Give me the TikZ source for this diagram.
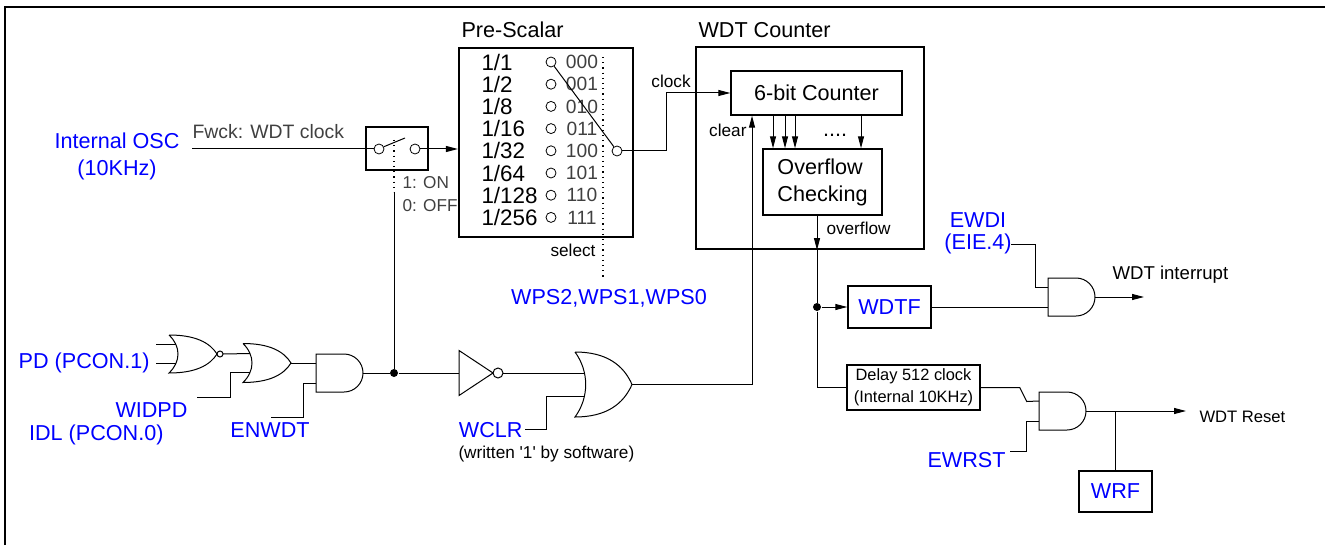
\documentclass[tikz,border=0pt]{standalone}
\usepackage{fontspec}
\setmainfont{Liberation Sans}
\usetikzlibrary{arrows.meta}
\definecolor{dim}{gray}{0.25}
\tikzset{lab/.style={inner sep=0pt,font=\fontsize{10.8}{13.5}\selectfont}}
\tikzset{sm/.style={inner sep=0pt,font=\fontsize{8.6}{11}\selectfont}}
\tikzset{reg/.style={lab,text=blue}}
\tikzset{sig/.style={-{Triangle[length=6pt,width=3pt]}}}
\tikzset{blk/.style={draw,inner sep=0pt,line width=0.7pt}}
\tikzset{frm/.style={draw,inner sep=0pt,line width=1.1pt}}
\tikzset{pin/.style={circle,draw,inner sep=0pt,minimum size=5pt,line width=0.4pt}}
\tikzset{dot/.style={circle,fill,inner sep=0pt,minimum size=4pt}}
\tikzset{
andg/.pic={
  \draw[fill=white] (0,-19) -- (28,-19) arc[start angle=-90,end angle=90,radius=19] -- (0,19) -- cycle;
  \coordinate (-in1) at (0,-10);
  \coordinate (-in2) at (0,10);
  \coordinate (-out) at (47,0);
},
pics/org/.style n args={3}{code={
  \draw[fill=white] (0,-#1) .. controls ({0.55*#2},-#1) and ({0.85*#2},{-0.6*#1}) .. (#2,0)
    .. controls ({0.85*#2},{0.6*#1}) and ({0.55*#2},#1) .. (0,#1)
    .. controls ({0.25*#2},{0.4*#1}) and ({0.25*#2},{-0.4*#1}) .. (0,-#1);
  \coordinate (-in1) at ({0.15*#2},-#3);
  \coordinate (-in2) at ({0.15*#2},#3);
  \coordinate (-out) at (#2,0);
}},
pics/norg/.style n args={3}{code={
  \draw[fill=white] (0,-#1) .. controls ({0.55*#2},-#1) and ({0.85*#2},{-0.6*#1}) .. (#2,0)
    .. controls ({0.85*#2},{0.6*#1}) and ({0.55*#2},#1) .. (0,#1)
    .. controls ({0.25*#2},{0.4*#1}) and ({0.25*#2},{-0.4*#1}) .. (0,-#1);
  \draw[fill=white] ({#2+3},0) circle[radius=3];
  \coordinate (-in1) at ({0.15*#2},-#3);
  \coordinate (-in2) at ({0.15*#2},#3);
  \coordinate (-out) at ({#2+6},0);
}},
notg/.pic={
  \draw[fill=white] (0,-22.5) -- (34,0) -- (0,22.5) -- cycle;
  \draw[fill=white] (39,0) circle[radius=5];
  \coordinate (-in) at (0,0);
  \coordinate (-out) at (44,0);
}
}
\begin{document}
\begin{tikzpicture}[x=0.5pt,y=-0.5pt,line width=0.5pt]
    \useasboundingbox (0,0) rectangle (1325,545);
    \draw[line width=1pt] (5,545) -- (5,7) -- (1325,7);
    % boxes
    \node[blk, minimum width=31pt, minimum height=21.5pt] (sw) at (397,148.5) {};
    \node[frm, minimum width=87pt, minimum height=94.5pt] (ps) at (546,142.5) {};
    \node[frm, minimum width=114pt, minimum height=101pt] (wc) at (810,148) {};
    \node[blk, lab, minimum width=85.5pt, minimum height=22pt] (cnt) at (816.5,93) {6-bit Counter};
    \node[blk, lab, align=left, minimum width=59.5pt, minimum height=33pt] (ovf) at (822.5,182) {Overflow\\Checking};
    \node[blk, reg, minimum width=41.5pt, minimum height=21pt] (wdtf) at (889.5,307) {WDTF};
    \node[blk, inner sep=0pt, font=\fontsize{8.2}{11}\selectfont, align=center, minimum width=66.5pt, minimum height=22.5pt] (dly) at (913.5,387.5) {Delay 512 clock\\(Internal 10KHz)};
    \node[blk, reg, minimum width=36.5pt, minimum height=20.5pt] (wrf) at (1115.5,491.5) {WRF};
    \node[lab, anchor=base west] at (461,38) {Pre-Scalar};
    \node[lab, anchor=base west] at (698,38) {WDT Counter};
    % clock source and switch
    \node[reg, align=center] (osc) at (117,156.5) {Internal OSC\\(10KHz)};
    \coordinate (oscend) at (192,149);
    \node[pin] (swa) at (379,149) {};
    \node[pin] (swb) at (415,149) {};
    \draw (oscend) -- (swa);
    \node[inner sep=0pt, font=\fontsize{9.7}{11}\selectfont, text=dim, anchor=base west] at (192,139) {Fwck: WDT clock};
    \draw (swa.25) -- (405,138);
    \coordinate (swt) at (394,140);
    \coordinate (swd) at (394,192);
    \draw[dotted, line width=0.6pt] (swt) -- (swd);
    \node[sm, text=dim, anchor=west] at (402,183) {1: ON};
    \node[sm, text=dim, anchor=west] at (402,206) {0: OFF};
    \draw[sig] (swb) -- (swb -| ps.west);
    % pre-scalar taps
    \foreach \d/\c [count=\i from 0] in {1/000,2/001,8/010,16/011,32/100,64/101,128/110,256/111} {
      \node[inner sep=0pt, font=\fontsize{11.2}{13}\selectfont, anchor=west] (r\i) at (481,{62+22.2*\i}) {1/\d};
      \node[pin] (p\i) at (551,{62+22.2*\i}) {};
      \node[inner sep=0pt, font=\fontsize{9.6}{11}\selectfont, text=dim] (c\i) at (582,{62+22.2*\i}) {\c};
    }
    \node[pin] (sel) at (617,151) {};
    \draw (p0) -- (sel);
    \coordinate (dtop) at (603,57);
    \coordinate (dbot) at (603,279);
    \draw[dotted, line width=0.6pt] (dtop) -- (dbot);
    \node[sm, anchor=east] at (596,250) {select};
    \node[reg] at (609,298) {WPS2,WPS1,WPS0};
    % counter
    \coordinate (ck) at (666,151);
    \draw[sig] (sel) -- (ck) |- (cnt.west);
    \node[sm] at (671,81) {clock};
    \foreach \x in {773,785,795,861} {
      \coordinate (t) at (\x,0);
      \draw[sig] (cnt.south -| t) -- (ovf.north -| t);
    }
    \node[lab, anchor=base] at (835,137) {....};
    \coordinate (ox) at (817,0);
    \draw[sig] (ovf.south -| ox) -- (wc.south -| ox);
    \node[sm, anchor=west] at (826,228) {overflow};
    \node[dot] (j2) at (817,307) {};
    \draw (wc.south -| ox) -- (j2) |- (dly.west);
    \draw[sig] (j2) -- (wdtf.west);
    % enable logic
    \pic (g1) at (169,354) {norg={19}{48}{9.5}};
    \coordinate (pda) at (156,344.5);
    \coordinate (pdb) at (156,363.5);
    \draw (pda) -- (g1-in1);
    \draw (pdb) -- (g1-in2);
    \node[reg, anchor=east] at (150,363) {PD (PCON.1)};
    \pic (g2) at (243,363) {org={19.5}{48}{9.5}};
    \draw (g1-out) -- (g2-in1);
    \coordinate (wid) at (197,397);
    \draw (wid) -- ++(33,0) |- (g2-in2);
    \node[reg, anchor=east] at (188,410) {WIDPD};
    \node[reg, anchor=east] at (164,435) {IDL (PCON.0)};
    \pic (g3) at (316,373) {andg};
    \draw (g2-out) -- (g3-in1);
    \coordinate (enw) at (271,417);
    \draw (enw) -- ++(32,0) |- (g3-in2);
    \node[reg] at (270,430) {ENWDT};
    \node[dot] (j1) at (394,373) {};
    \pic (g4) at (459,373) {notg};
    \draw (g3-out) -- (j1) -- (g4-in);
    \draw (j1) -- (swd);
    % clear logic
    \pic (g5) at (575,384.5) {org={32.5}{57}{11.5}};
    \draw (g4-out) -- (g5-in1);
    \coordinate (wcl) at (525,429);
    \draw (wcl) -- ++(21,0) |- (g5-in2);
    \node[reg, anchor=east] at (523,430) {WCLR};
    \node[sm, anchor=west] at (458,454) {(written \textquotesingle 1\textquotesingle\ by software)};
    \coordinate (cl) at (752,0);
    \draw[sig] (g5-out) -| (cnt.south -| cl);
    \node[sm, anchor=east] at (747,130) {clear};
    % interrupt
    \pic (g6) at (1048,297) {andg};
    \draw (wdtf.east) -- (g6-in2);
    \node[inner sep=0pt, font=\fontsize{10.8}{11}\selectfont, text=blue, align=center] (ewdi) at (978,233) {EWDI\\(EIE.4)};
    \coordinate (ewd) at (1011,244);
    \draw (ewd) -- ++(24,0) |- (g6-in1);
    \coordinate (irq) at (1144,297);
    \draw[sig] (g6-out) -- (irq);
    \node[inner sep=0pt, font=\fontsize{9.3}{11}\selectfont, anchor=west] at (1112,275) {WDT interrupt};
    % reset
    \pic (g7) at (1039,411) {andg};
    \draw (dly.east) -- ++(39,0) -- ++(7,14) -- (g7-in1);
    \coordinate (ewr) at (1010,451);
    \draw (ewr) -- ++(16,0) |- (g7-in2);
    \node[reg, anchor=east] at (1006,460) {EWRST};
    \coordinate (rst) at (1186,411);
    \draw[sig] (g7-out) -- (rst);
    \draw (wrf.north) -- (wrf.north |- g7-out);
    \node[inner sep=0pt, font=\fontsize{8.3}{10}\selectfont, anchor=west] at (1199,417) {WDT Reset};
\end{tikzpicture}
\end{document}
